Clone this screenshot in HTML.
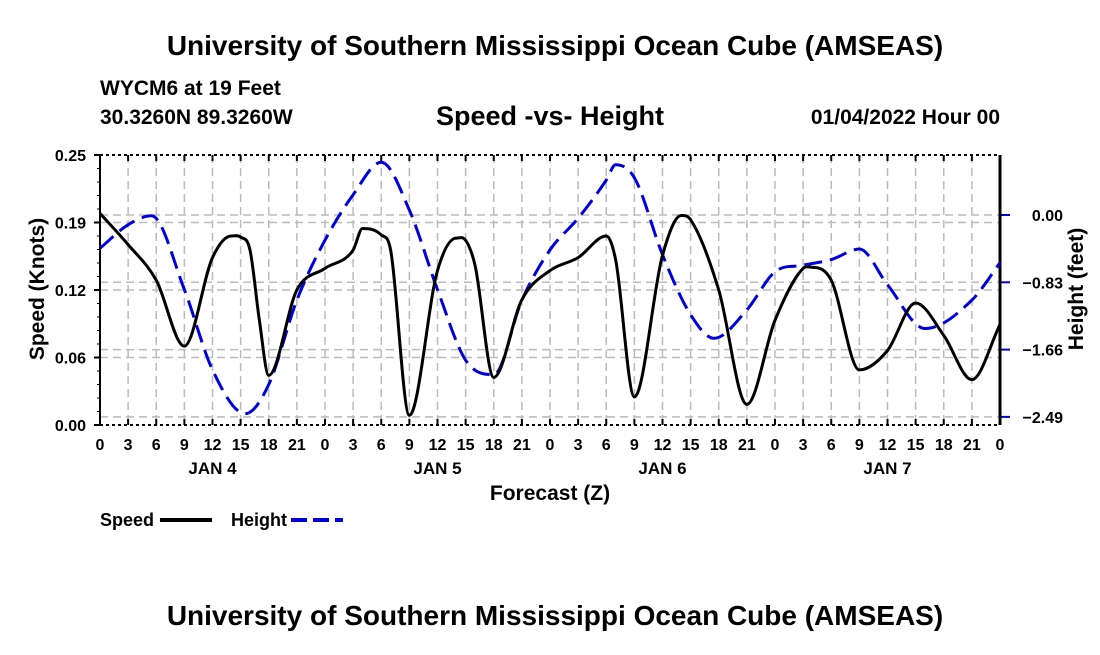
<!DOCTYPE html>
<html><head><meta charset="utf-8"><style>
body{margin:0;background:#fff;}
svg text{font-family:"Liberation Sans",Arial,sans-serif;font-weight:bold;fill:#000;}
</style></head><body>
<svg id="chart" width="1100" height="650" viewBox="0 0 1100 650" xmlns="http://www.w3.org/2000/svg">
<text x="555" y="55" font-size="28" text-anchor="middle">University of Southern Mississippi Ocean Cube (AMSEAS)</text>
<text x="100" y="95" font-size="21">WYCM6 at 19 Feet</text>
<text x="100" y="124" font-size="21">30.3260N  89.3260W</text>
<text x="550" y="125" font-size="27" text-anchor="middle">Speed -vs- Height</text>
<text x="1000" y="124" font-size="21" text-anchor="end">01/04/2022 Hour 00</text>
<g id="grid"></g>
<g id="axes"></g>
<g id="series"></g>
<text x="550" y="500" font-size="21" text-anchor="middle">Forecast (Z)</text>
<text transform="translate(44,289) rotate(-90)" font-size="21" text-anchor="middle">Speed (Knots)</text>
<text transform="translate(1083,289) rotate(-90)" font-size="21" text-anchor="middle">Height (feet)</text>
<g><text x="100" y="526" font-size="18">Speed</text><line x1="160" y1="520" x2="212" y2="520" stroke="#000" stroke-width="4"/></g>
<g><text x="231" y="526" font-size="18">Height</text><line x1="291" y1="520" x2="343" y2="520" stroke="#0000dd" stroke-width="4" stroke-dasharray="16,6"/></g>
<text x="555" y="625" font-size="28" text-anchor="middle">University of Southern Mississippi Ocean Cube (AMSEAS)</text>
</svg>
<script>
const hours=[0,3,6,9,12,14,15,16,17,18,21,24,27,28,30,31,33,36,38,39,40,42,45,48,51,54,55,57,60,62,63,66,69,72,75,76,78,81,84,87,90,93,96];
const speed=[0.196,0.167,0.134,0.073,0.155,0.175,0.174,0.162,0.097,0.046,0.125,0.145,0.162,0.182,0.176,0.162,0.009,0.143,0.173,0.171,0.148,0.044,0.116,0.143,0.155,0.175,0.153,0.026,0.157,0.194,0.19,0.125,0.019,0.097,0.145,0.146,0.134,0.051,0.069,0.113,0.083,0.042,0.093];
const hHours=[0,3,5.5,9,12,15.5,18,21,24,27,30,33,36,39,42,45,48,51,54,55,57,60,63,65.5,69,72,75,78,81,84,88,93,96];
const height=[-0.41,-0.12,-0.01,-0.92,-1.91,-2.45,-2.09,-1.05,-0.31,0.25,0.65,0.06,-0.92,-1.79,-1.97,-1.05,-0.43,-0.04,0.43,0.62,0.46,-0.49,-1.23,-1.52,-1.17,-0.70,-0.62,-0.55,-0.42,-0.86,-1.40,-1.05,-0.59];
const leftTicks=[0,0.0625,0.125,0.1875,0.25];
const leftLabels=["0.00","0.06","0.12","0.19","0.25"];
const rightTicks=[0,-0.83,-1.66,-2.49];
const rightLabels=["0.00","\u22120.83","\u22121.66","\u22122.49"];
const dayLabels=["JAN 4","JAN 5","JAN 6","JAN 7"];
const X0=100,X1=1000,Y0=155,Y1=425;
const x=h=>X0+h/96*(X1-X0);
const yL=v=>Y1-v/0.25*(Y1-Y0);
const yR=v=>215-v/0.83*67.3;
const NS="http://www.w3.org/2000/svg";
function mk(tag,parent,attrs){const e=document.createElementNS(NS,tag);for(const k in attrs)e.setAttribute(k,attrs[k]);parent.appendChild(e);return e;}
const grid=document.getElementById('grid'),axes=document.getElementById('axes'),ser=document.getElementById('series');
const gs={stroke:"#bbb","stroke-width":1.5,"stroke-dasharray":"8,5"};
for(let h=3;h<96;h+=3){const l=mk('line',grid,Object.assign({x1:x(h),x2:x(h),y1:Y0,y2:Y1},gs));

}
leftTicks.forEach((v,i)=>{if(i>0&&i<4){const l=mk('line',grid,Object.assign({x1:X0,x2:X1,y1:yL(v),y2:yL(v)},gs));

}
const t=mk('text',axes,{x:X0-14,y:yL(v)+6,'font-size':16,'text-anchor':'end'});t.textContent=leftLabels[i];


mk('line',axes,{x1:X0-6,x2:X0,y1:yL(v),y2:yL(v),stroke:'#000','stroke-width':2});});
for(let v=0;v<=0.25;v+=0.0125){mk('line',axes,{x1:X0-3,x2:X0,y1:yL(v),y2:yL(v),stroke:'#000','stroke-width':1});}
rightTicks.forEach((v,i)=>{const l=mk('line',grid,Object.assign({x1:X0,x2:X1,y1:yR(v),y2:yR(v)},gs));


mk('line',axes,{x1:X1,x2:X1+10,y1:yR(v),y2:yR(v),stroke:'#0000dd','stroke-width':2});
const t=mk('text',axes,{x:1063,y:yR(v)+6,'font-size':16,'text-anchor':'end'});t.textContent=rightLabels[i];

});
mk('line',axes,{x1:X0,x2:X1,y1:Y1,y2:Y1,stroke:'#000','stroke-width':2,'stroke-dasharray':'3,3'});
mk('line',axes,{x1:X0,x2:X1,y1:Y0,y2:Y0,stroke:'#000','stroke-width':2,'stroke-dasharray':'3,3'});
mk('line',axes,{x1:X0,x2:X0,y1:Y0,y2:Y1,stroke:'#000','stroke-width':2});
mk('line',axes,{x1:X1,x2:X1,y1:Y0,y2:Y1,stroke:'#000','stroke-width':3});
for(let h=0;h<=96;h+=3){mk('line',axes,{x1:x(h),x2:x(h),y1:Y1,y2:Y1-6,stroke:'#000','stroke-width':2});
mk('line',axes,{x1:x(h),x2:x(h),y1:Y0,y2:Y0+6,stroke:'#000','stroke-width':2});
const t=mk('text',axes,{x:x(h),y:450,'font-size':16,'text-anchor':'middle'});t.textContent=String(h%24);

}
dayLabels.forEach((d,i)=>{const t=mk('text',axes,{x:x(i*24+12),y:474,'font-size':17,'text-anchor':'middle'});t.textContent=d;

});
function smooth(pts){const n=pts.length,m=[];
for(let i=0;i<n;i++){if(i===0)m.push((pts[1][1]-pts[0][1])/(pts[1][0]-pts[0][0]));else if(i===n-1)m.push((pts[i][1]-pts[i-1][1])/(pts[i][0]-pts[i-1][0]));
else{const a=(pts[i][1]-pts[i-1][1])/(pts[i][0]-pts[i-1][0]),b=(pts[i+1][1]-pts[i][1])/(pts[i+1][0]-pts[i][0]);m.push(a*b<=0?0:(a+b)/2);}}
let d=`M${pts[0][0]},${pts[0][1]}`;
for(let i=0;i<n-1;i++){const dx=(pts[i+1][0]-pts[i][0])/3;
d+=` C${pts[i][0]+dx},${pts[i][1]+m[i]*dx} ${pts[i+1][0]-dx},${pts[i+1][1]-m[i+1]*dx} ${pts[i+1][0]},${pts[i+1][1]}`;}return d;}
const hp=mk('path',ser,{d:smooth(hHours.map((h,i)=>[x(h),yR(height[i])])),fill:'none',stroke:'#0000dd','stroke-width':3,'stroke-dasharray':'18,8'});


const sp=mk('path',ser,{d:smooth(hours.map((h,i)=>[x(h),yL(speed[i])])),fill:'none',stroke:'#000','stroke-width':3});


</script>
</body></html>
